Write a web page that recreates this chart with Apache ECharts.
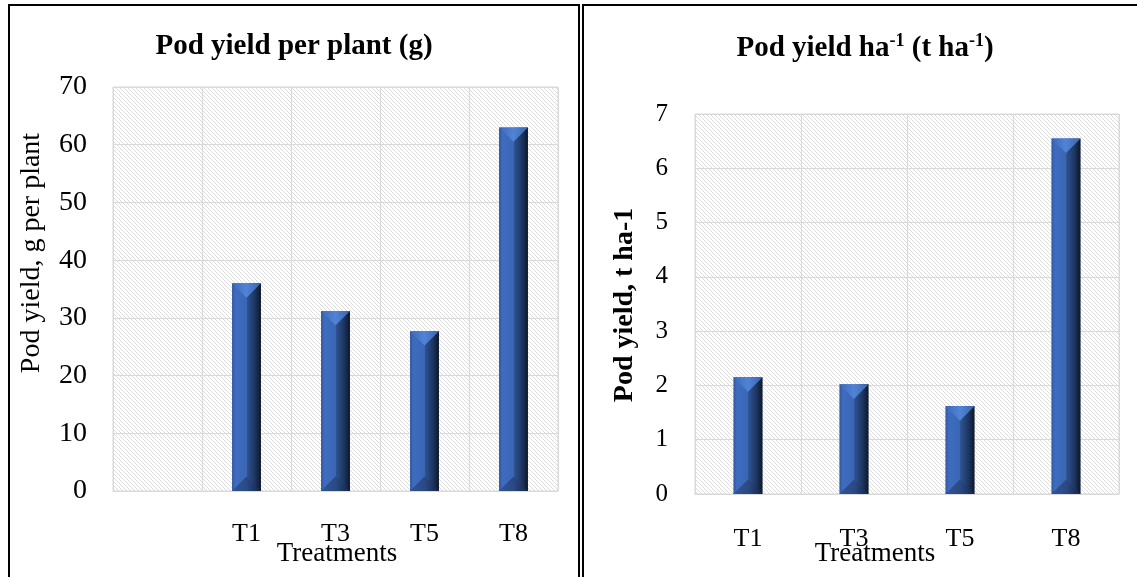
<!DOCTYPE html>
<html>
<head>
<meta charset="utf-8">
<style>
  html, body { margin: 0; padding: 0; background: #fff; }
  #chart { width: 1137px; height: 577px; }
</style>
<script src="https://cdn.jsdelivr.net/npm/echarts@6/dist/echarts.min.js"></script>
</head>
<body>
<div id="chart"></div>
<script>
// Pod yield per plant (g) — the first slot on this axis is left empty
const plantCategories = ['', 'T1', 'T3', 'T5', 'T8'];
const plantYield = [null, 36, 31.2, 27.7, 63];
const plantTicks = { min: 0, max: 70, interval: 10 };

// Pod yield per hectare (t ha-1)
const haCategories = ['T1', 'T3', 'T5', 'T8'];
const haYield = [2.15, 2.02, 1.62, 6.55];
const haTicks = { min: 0, max: 7, interval: 1 };

const SERIF = '"Liberation Serif", "DejaVu Serif", serif';

// light diagonal hatching used as the plot-area fill
function hatchPattern() {
  const c = document.createElement('canvas');
  c.width = 4; c.height = 4;
  const g = c.getContext('2d');
  g.fillStyle = '#ffffff';
  g.fillRect(0, 0, 4, 4);
  g.fillStyle = '#dcdcdc';
  for (let i = 0; i < 4; i++) g.fillRect(i, i, 1, 1);
  return { image: c, repeat: 'repeat' };
}
const hatch = hatchPattern();

// bevelled column: lit left face, shaded right face, pointed top and bottom facets
function bevelBar(widthRatio) {
  return function (params, api) {
    const v = api.value(1);
    if (v == null || isNaN(v)) return;
    const top = api.coord([api.value(0), v]);
    const base = api.coord([api.value(0), 0]);
    const band = api.size([1, 0])[0];
    const w = band * widthRatio;
    const x0 = top[0] - w / 2, x1 = top[0] + w / 2, xm = top[0];
    const yT = top[1], yB = base[1];
    const d = Math.min(w / 2, (yB - yT) / 2);
    const face = new echarts.graphic.LinearGradient(0, 0, 1, 0, [
      { offset: 0, color: '#30589f' },
      { offset: 0.12, color: '#3f6cbf' },
      { offset: 0.5, color: '#3a66b4' },
      { offset: 0.52, color: '#2e5292' },
      { offset: 0.8, color: '#1c3560' },
      { offset: 1, color: '#0c1628' }
    ]);
    return {
      type: 'group',
      children: [
        { type: 'rect', shape: { x: x0, y: yT, width: w, height: yB - yT }, style: { fill: face } },
        { type: 'polygon', shape: { points: [[x0, yT], [x1, yT], [xm, yT + d]] },
          style: { fill: new echarts.graphic.LinearGradient(0, 0, 1, 0, [
            { offset: 0, color: '#3d6ab9' }, { offset: 0.5, color: '#5083d6' }, { offset: 1, color: '#3a64ae' }]) } },
        { type: 'polygon', shape: { points: [[x0, yB], [x1, yB], [xm, yB - d]] },
          style: { fill: new echarts.graphic.LinearGradient(0, 0, 1, 0, [
            { offset: 0, color: '#2f5597' }, { offset: 0.5, color: '#2b4a83' }, { offset: 1, color: '#14254a' }]) } }
      ]
    };
  };
}

function valueAxis(gridIndex, ticks, fontSize, margin) {
  return {
    type: 'value', gridIndex, min: ticks.min, max: ticks.max, interval: ticks.interval,
    axisLine: { show: false }, axisTick: { show: false },
    splitLine: { lineStyle: { color: '#d9d9d9', width: 1 } },
    axisLabel: { color: '#000', fontFamily: SERIF, fontSize, margin }
  };
}
function catAxis(gridIndex, cats, margin) {
  return {
    type: 'category', gridIndex, data: cats, boundaryGap: true,
    axisLine: { show: true, lineStyle: { color: '#d9d9d9' } }, axisTick: { show: false },
    splitLine: { show: true, interval: 0, lineStyle: { color: '#d9d9d9', width: 1 } },
    axisLabel: { color: '#000', fontFamily: SERIF, fontSize: 26, margin, interval: 0 }
  };
}

const chart = echarts.init(document.getElementById('chart'), null, { renderer: 'canvas' });
chart.setOption({
  backgroundColor: '#ffffff',
  animation: false,
  title: [
    { text: 'Pod yield per plant (g)', left: 289, top: 27, textAlign: 'center',
      textStyle: { fontFamily: SERIF, fontSize: 29, fontWeight: 'bold', color: '#000' } },
    { text: '{b|Pod yield ha}{s|-1}{b| (t ha}{s|-1}{b|)}', left: 860, top: 27, textAlign: 'center',
      textStyle: { rich: {
        b: { fontFamily: SERIF, fontSize: 29, fontWeight: 'bold', color: '#000', lineHeight: 34 },
        s: { fontFamily: SERIF, fontSize: 18, fontWeight: 'bold', color: '#000', verticalAlign: 'top', lineHeight: 34, padding: [0, 0, 10, 0] }
      } } }
  ],
  grid: [
    { left: 113, top: 87, width: 445, height: 404, show: true, backgroundColor: hatch, borderColor: '#d9d9d9', borderWidth: 1 },
    { left: 695, top: 114, width: 424, height: 380, show: true, backgroundColor: hatch, borderColor: '#d9d9d9', borderWidth: 1 }
  ],
  xAxis: [catAxis(0, plantCategories, 30), catAxis(1, haCategories, 32)],
  yAxis: [valueAxis(0, plantTicks, 28, 26), valueAxis(1, haTicks, 25, 27)],
  series: [
    { type: 'custom', xAxisIndex: 0, yAxisIndex: 0, renderItem: bevelBar(0.325),
      data: plantCategories.map((c, i) => [i, plantYield[i]]) },
    { type: 'custom', xAxisIndex: 1, yAxisIndex: 1, renderItem: bevelBar(0.275),
      data: haCategories.map((c, i) => [i, haYield[i]]) }
  ],
  graphic: [
    // panel frames
    { type: 'rect', shape: { x: 9, y: 5, width: 570, height: 600 }, style: { fill: null, stroke: '#000', lineWidth: 2 }, z: 10 },
    { type: 'rect', shape: { x: 583, y: 5, width: 570, height: 600 }, style: { fill: null, stroke: '#000', lineWidth: 2 }, z: 10 },
    // axis titles
    { type: 'text', x: 32, y: 253, rotation: Math.PI / 2,
      style: { text: 'Pod yield, g per plant', font: '28px ' + SERIF, fill: '#000', textAlign: 'center', textVerticalAlign: 'middle' } },
    { type: 'text', x: 337, y: 554,
      style: { text: 'Treatments', font: '27px ' + SERIF, fill: '#000', textAlign: 'center', textVerticalAlign: 'middle' } },
    { type: 'text', x: 625, y: 305, rotation: Math.PI / 2,
      style: { text: 'Pod yield, t ha-1', font: 'bold 28px ' + SERIF, fill: '#000', textAlign: 'center', textVerticalAlign: 'middle' } },
    { type: 'text', x: 875, y: 554,
      style: { text: 'Treatments', font: '27px ' + SERIF, fill: '#000', textAlign: 'center', textVerticalAlign: 'middle' } }
  ]
});
</script>
</body>
</html>
